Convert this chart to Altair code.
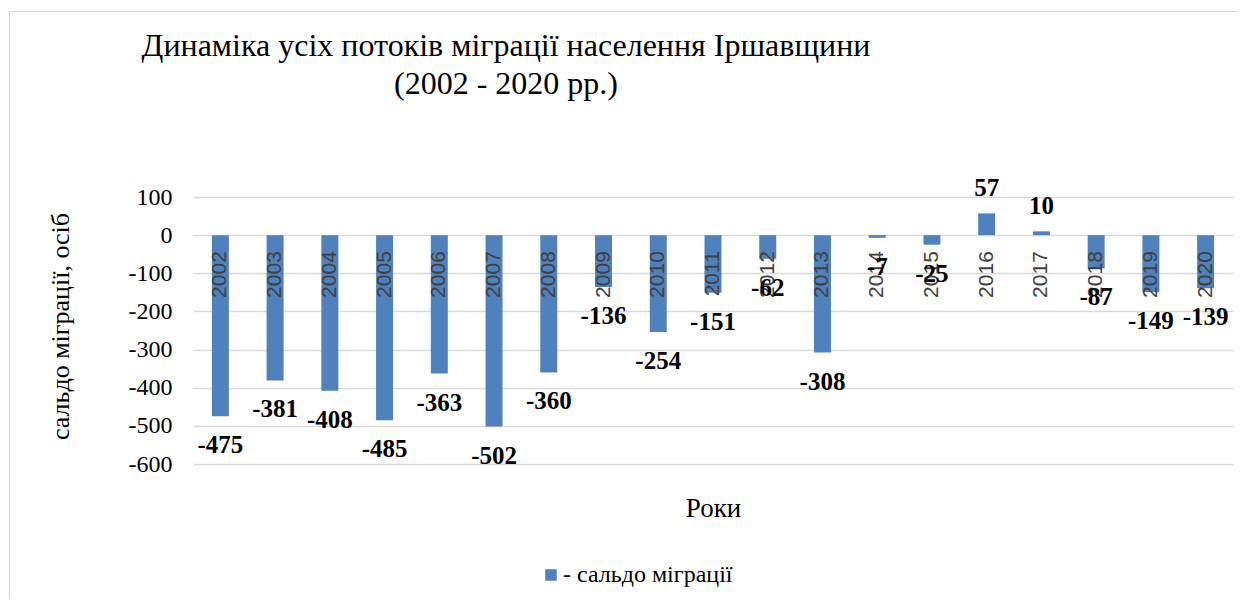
import altair as alt
import pandas as pd

years = [str(y) for y in range(2002, 2021)]
values = [-475, -381, -408, -485, -363, -502, -360, -136, -254, -151,
          -62, -308, -7, -25, 57, 10, -87, -149, -139]
series_name = "- сальдо міграції"
y_ticks = [100, 0, -100, -200, -300, -400, -500, -600]
title_lines = ["Динаміка усіх потоків міграції населення Іршавщини",
               "(2002 - 2020 рр.)"]

df = pd.DataFrame({"year": years, "value": values, "series": series_name})

SERIF = "Liberation Serif"
SANS = "Liberation Sans"
BLUE = "#4F81BD"

x_axis = alt.Axis(title="Роки", labels=False, ticks=False, domain=False,
                  titleFont=SERIF, titleFontSize=27, titleFontWeight="normal",
                  titleColor="black", titlePadding=31)
x_scale = alt.Scale(paddingInner=0.69, paddingOuter=0.345)
y_axis = alt.Axis(title="сальдо міграції, осіб", values=y_ticks,
                  labelExpr="'' + datum.value", labelOverlap=False,
                  grid=True, gridColor="#d9d9d9", gridWidth=1.3,
                  domain=False, ticks=False, labelPadding=21,
                  labelFont=SERIF, labelFontSize=24, labelColor="black",
                  titleFont=SERIF, titleFontSize=26, titleFontWeight="normal",
                  titleColor="black", titleX=-133, titleY=129,
                  titleBaseline="middle")
y_scale = alt.Scale(domain=[-600, 100], nice=False, zero=False)


def xe():
    return alt.X("year:N", sort=years, scale=x_scale, axis=x_axis)


base = alt.Chart(df).transform_calculate(label="'' + datum.value")

bars = base.mark_bar(color=BLUE).encode(
    x=xe(),
    y=alt.Y("value:Q", scale=y_scale, axis=y_axis),
    color=alt.Color("series:N", scale=alt.Scale(range=[BLUE]),
                    legend=alt.Legend(title=None, orient="none", legendX=346, legendY=366,
                                      symbolType="square", symbolSize=132,
                                      symbolStrokeWidth=0, padding=0, labelOffset=0,
                                      labelLimit=0,
                                      labelFont=SERIF, labelFontSize=24,
                                      labelColor="black")),
)

year_labels = base.mark_text(angle=270, align="right", baseline="middle",
                             font=SANS, fontSize=21, color="#404040").encode(
    x=xe(),
    y=alt.Y(datum=-42, scale=y_scale, axis=y_axis),
    text="year:N",
)

neg_labels = base.transform_filter("datum.value < 0").mark_text(
    baseline="middle", dy=29, font=SERIF, fontSize=25, fontWeight="bold", color="black"
).encode(x=xe(), y=alt.Y("value:Q", scale=y_scale, axis=y_axis), text="label:N")

pos_labels = base.transform_filter("datum.value >= 0").mark_text(
    baseline="middle", dy=-25, font=SERIF, fontSize=25, fontWeight="bold", color="black"
).encode(x=xe(), y=alt.Y("value:Q", scale=y_scale, axis=y_axis), text="label:N")

one = pd.DataFrame({"k": [0]})
title_mark = alt.Chart(one).mark_text(
    text=title_lines, align="center", baseline="middle", lineHeight=38,
    font=SERIF, fontSize=32, color="black"
).encode(x=alt.value(313), y=alt.value(-151))

frame_left = alt.Chart(one).mark_rule(color="#d9d9d9", strokeWidth=1.2).encode(
    x=alt.value(-183.5), y=alt.value(-185.5), y2=alt.value(420))
frame_top = alt.Chart(one).mark_rule(color="#d9d9d9", strokeWidth=1.2).encode(
    y=alt.value(-185.5), x=alt.value(-183.5), x2=alt.value(1060))

chart = alt.layer(frame_left, frame_top, bars, year_labels, neg_labels, pos_labels,
                  title_mark).properties(
    width=1040, height=267,
    autosize=alt.AutoSizeParams(type="none"),
    padding={"left": 185, "top": 189, "right": 5, "bottom": 134},
).configure_view(stroke=None).configure_axisY(
    labelOverlap=False, labelFont=SERIF, labelFontSize=24, labelColor="black"
)

chart.save("out.html", embed_options={"renderer": "svg", "actions": False})
